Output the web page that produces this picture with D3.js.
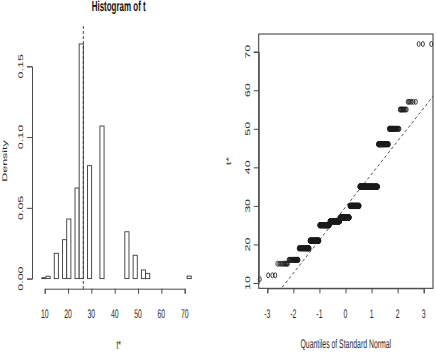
<!DOCTYPE html>
<html><head><meta charset="utf-8">
<script src="https://cdn.jsdelivr.net/npm/d3@7"></script>
<style>
html,body{margin:0;padding:0;background:#fff;}
svg{display:block;}
text{font-family:"Liberation Sans",Arial,sans-serif;fill:#2a2a2a;text-rendering:geometricPrecision;}
</style></head>
<body>
<svg id="c" width="436" height="352"></svg>
<script>
// ---------- data ----------
// histogram: bins of equal width anchored at t0 (observed statistic)
const t0 = 26.55;
const binWidth = 1.779;
const firstBinIndex = -11;
const histDensity = [
  0, 0.0006, 0.0017, 0, 0.0179, 0, 0.0275, 0.0421, 0, 0.064,
  0.1658, 0, 0.0798, 0, 0, 0.1078, 0, 0, 0, 0,
  0, 0.0331, 0, 0.0165, 0, 0.0061, 0.0037, 0, 0, 0,
  0, 0, 0, 0, 0, 0, 0.0018, 0, 0
];
const histXTicks = [10, 20, 30, 40, 50, 60, 70];
const histYTicks = [0, 0.05, 0.10, 0.15];

// bootstrap replicates: distinct values and how many replicates took each
const qqValues = [11, 12, 15, 16, 19, 21, 25, 26, 27, 30, 35, 46, 50, 55, 57, 72];
const qqCounts = [1, 3, 10, 22, 48, 74, 113, 146, 146, 141, 190, 58, 29, 10, 6, 3];
const qqXTicks = [-3, -2, -1, 0, 1, 2, 3];
const qqYTicks = [10, 20, 30, 40, 50, 60, 70];

// ---------- helpers ----------
const SX = 0.55; // horizontal squeeze of the picture
const svg = d3.select("#c");
const AX = "#4a4a4a";

function label(g, x, y, s, o = {}) {
  const t = g.append("text")
    .attr("transform", `translate(${x},${y}) scale(${SX},1)` + (o.rot ? " rotate(-90)" : ""))
    .attr("text-anchor", o.anchor || "middle")
    .attr("font-size", o.size || 12.5)
    .text(s);
  if (o.bold) t.attr("font-weight", "bold").style("fill", "#111");
  return t;
}

function qnorm(p) {
  const a = [-3.969683028665376e+01, 2.209460984245205e+02, -2.759285104469687e+02, 1.383577518672690e+02, -3.066479806614716e+01, 2.506628277459239e+00];
  const b = [-5.447609879822406e+01, 1.615858368580409e+02, -1.556989798598866e+02, 6.680131188771972e+01, -1.328068155288572e+01];
  const c = [-7.784894002430293e-03, -3.223964580411365e-01, -2.400758277161838e+00, -2.549732539343734e+00, 4.374664141464968e+00, 2.938163982698783e+00];
  const d = [7.784695709041462e-03, 3.224671290700398e-01, 2.445134137142996e+00, 3.754408661907416e+00];
  const pl = 0.02425;
  let q, r;
  if (p < pl) { q = Math.sqrt(-2 * Math.log(p)); return (((((c[0]*q+c[1])*q+c[2])*q+c[3])*q+c[4])*q+c[5])/((((d[0]*q+d[1])*q+d[2])*q+d[3])*q+1); }
  if (p > 1 - pl) { q = Math.sqrt(-2 * Math.log(1 - p)); return -(((((c[0]*q+c[1])*q+c[2])*q+c[3])*q+c[4])*q+c[5])/((((d[0]*q+d[1])*q+d[2])*q+d[3])*q+1); }
  q = p - 0.5; r = q * q;
  return (((((a[0]*r+a[1])*r+a[2])*r+a[3])*r+a[4])*r+a[5])*q/(((((b[0]*r+b[1])*r+b[2])*r+b[3])*r+b[4])*r+1);
}

// ---------- left panel: histogram ----------
const L = svg.append("g");
const xL = d3.scaleLinear().domain([10, 70]).range([44.7, 184.7]);
const yL = d3.scaleLinear().domain([0, 0.15]).range([278.6, 66.3]);

const bins = histDensity.map((dens, i) => {
  const x0 = t0 + (firstBinIndex + i) * binWidth;
  return { x0, x1: x0 + binWidth, dens };
});
L.selectAll("rect.bar").data(bins).join("rect")
  .attr("class", "bar")
  .attr("x", d => xL(d.x0))
  .attr("width", d => xL(d.x1) - xL(d.x0))
  .attr("y", d => yL(d.dens))
  .attr("height", d => yL(0) - yL(d.dens))
  .attr("fill", "#fff")
  .attr("stroke", "#3a3a3a")
  .attr("stroke-width", 0.9);

// t0 reference line
L.append("line")
  .attr("x1", xL(t0)).attr("x2", xL(t0))
  .attr("y1", 26).attr("y2", 289)
  .attr("stroke", "#333").attr("stroke-width", 0.9)
  .attr("stroke-dasharray", "3,2");

// x axis
const xAxL = d3.axisBottom(xL).tickValues(histXTicks).tickSize(5).tickFormat("");
const gxL = L.append("g").attr("transform", "translate(0,288.7)").call(xAxL);
gxL.selectAll("path,line").attr("stroke", AX);
histXTicks.forEach(v => label(L, xL(v), 317.5, d3.format("d")(v)));

// y axis
const yAxL = d3.axisLeft(yL).tickValues(histYTicks).tickSize(5).tickFormat("");
const gyL = L.append("g").attr("transform", "translate(32,0)").call(yAxL);
gyL.selectAll("path,line").attr("stroke", AX);
histYTicks.forEach(v => label(L, 22.7, yL(v), d3.format(".2f")(v), { rot: true }));

label(L, 118.7, 11, "Histogram of t", { bold: true, size: 14.5 });
label(L, 118.7, 349, "t*");
label(L, 6.5, 161, "Density", { rot: true });

// ---------- right panel: normal QQ plot ----------
const R = svg.append("g");
const box = { l: 258.7, r: 433, t: 34, b: 288.3 };
const xR = d3.scaleLinear().domain([-3, 3]).range([267.3, 423.7]);
const yR = d3.scaleLinear().domain([10, 70]).range([283, 51.7]);

const sorted = [];
qqValues.forEach((v, i) => { for (let k = 0; k < qqCounts[i]; k++) sorted.push(v); });
const n = sorted.length;
const pts = sorted.map((v, i) => ({ q: qnorm((i + 0.5) / n), v }));

R.append("clipPath").attr("id", "clipR").append("rect")
  .attr("x", box.l).attr("y", box.t).attr("width", box.r - box.l).attr("height", box.b - box.t);

// reference line: mean + sd * z
const mu = d3.mean(sorted), sd = d3.deviation(sorted);
R.append("line")
  .attr("clip-path", "url(#clipR)")
  .attr("x1", xR(-4)).attr("y1", yR(mu - 4 * sd))
  .attr("x2", xR(4)).attr("y2", yR(mu + 4 * sd))
  .attr("stroke", "#444").attr("stroke-width", 0.9)
  .attr("stroke-dasharray", "3,2.5");

R.selectAll("ellipse").data(pts).join("ellipse")
  .attr("cx", d => xR(d.q))
  .attr("cy", d => yR(d.v))
  .attr("rx", 1.5).attr("ry", 2.5)
  .attr("fill", "none")
  .attr("stroke", "#1a1a1a")
  .attr("stroke-width", 0.85);

R.append("rect")
  .attr("x", box.l).attr("y", box.t).attr("width", box.r - box.l).attr("height", box.b - box.t)
  .attr("fill", "none").attr("stroke", "#333").attr("stroke-width", 1);

const xAxR = d3.axisBottom(xR).tickValues(qqXTicks).tickSize(5).tickFormat("");
const gxR = R.append("g").attr("transform", `translate(0,${box.b})`).call(xAxR);
gxR.selectAll("path,line").attr("stroke", AX);
qqXTicks.forEach(v => label(R, xR(v), 317.5, d3.format("d")(v).replace("−", "-")));

const yAxR = d3.axisLeft(yR).tickValues(qqYTicks).tickSize(5).tickFormat("");
const gyR = R.append("g").attr("transform", `translate(${box.l},0)`).call(yAxR);
gyR.selectAll("path,line").attr("stroke", AX);
qqYTicks.forEach(v => label(R, 249.7, yR(v), d3.format("d")(v), { rot: true }));

label(R, 345.8, 347.7, "Quantiles of Standard Normal");
label(R, 231, 161, "t*", { rot: true });
</script>
</body></html>
